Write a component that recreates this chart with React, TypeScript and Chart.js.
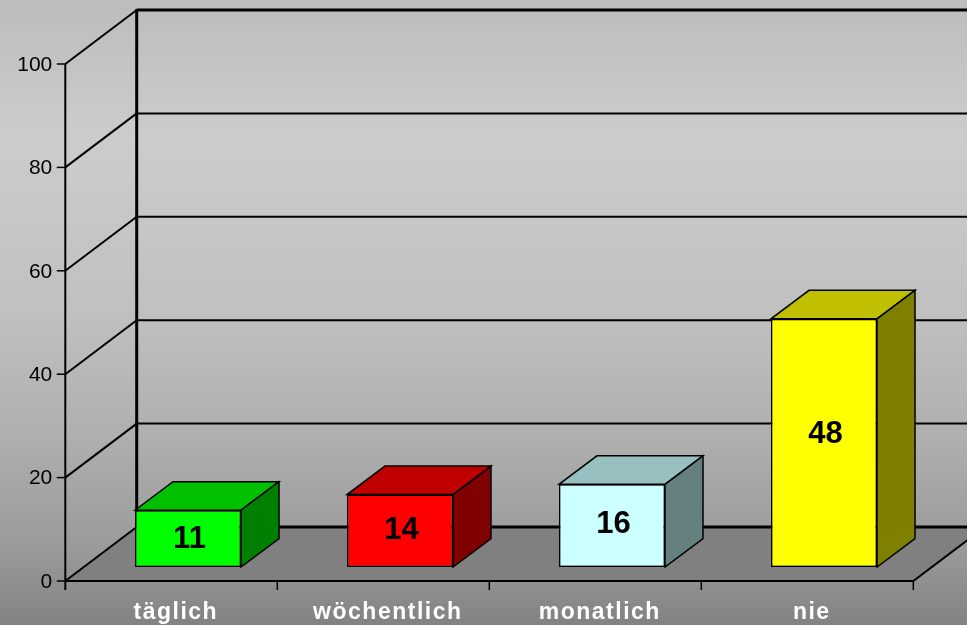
import React, { useEffect, useRef } from 'react';
import { Chart, registerables } from 'chart.js';

Chart.register(...registerables);

const categories = ['täglich', 'wöchentlich', 'monatlich', 'nie'];
const values = [11, 14, 16, 48];
const yTicks = [0, 20, 40, 60, 80, 100];

const frontColors = ['#00ff00', '#ff0000', '#ccffff', '#ffff00'];
const topColors = ['#00c000', '#c00000', '#99c0c0', '#c0c000'];
const sideColors = ['#008000', '#800000', '#668080', '#808000'];

// oblique projection offsets (relative to the bar front plane = chart area)
const FRONT_DX = -16.7;
const FRONT_DY = 14;
const BACK_DX = 54.7;
const BACK_DY = -40;
const BAR_DX = 38;
const BAR_DY = -28.5;

const FONT = '"Liberation Sans", Arial, sans-serif';

const line = (ctx: CanvasRenderingContext2D, pts: number[][], lw: number) => {
  ctx.beginPath();
  ctx.moveTo(pts[0][0], pts[0][1]);
  for (let i = 1; i < pts.length; i++) ctx.lineTo(pts[i][0], pts[i][1]);
  ctx.lineWidth = lw;
  ctx.strokeStyle = '#000';
  ctx.stroke();
};

const fake3d = {
  id: 'fake3d',
  beforeDraw(chart: any) {
    const { ctx, width, height } = chart;
    const g = ctx.createLinearGradient(0, 0, 0, height);
    g.addColorStop(0, '#bcbcbc');
    g.addColorStop(0.22, '#cccccc');
    g.addColorStop(0.5, '#c0c0c0');
    g.addColorStop(0.7, '#afafaf');
    g.addColorStop(0.88, '#9a9a9a');
    g.addColorStop(1, '#828282');
    ctx.save();
    ctx.fillStyle = g;
    ctx.fillRect(0, 0, width, height);
    ctx.restore();
  },
  beforeDatasetsDraw(chart: any) {
    const { ctx, chartArea } = chart;
    const x = chart.scales.x;
    const y = chart.scales.y;
    const y0 = y.getPixelForValue(0);
    const yTop = y.getPixelForValue(100);
    const fl = chartArea.left + FRONT_DX;
    const fr = chartArea.right + FRONT_DX;
    const bl = chartArea.left + BACK_DX;
    const br = chartArea.right + BACK_DX;
    const fy0 = y0 + FRONT_DY;
    const by0 = y0 + BACK_DY;
    ctx.save();
    ctx.lineCap = 'butt';
    // floor
    ctx.fillStyle = '#808080';
    ctx.beginPath();
    ctx.moveTo(fl, fy0);
    ctx.lineTo(fr, fy0);
    ctx.lineTo(br, by0);
    ctx.lineTo(bl, by0);
    ctx.closePath();
    ctx.fill();
    // gridlines on left wall and back wall
    yTicks.forEach((v) => {
      const py = y.getPixelForValue(v);
      line(ctx, [[fl, py + FRONT_DY], [bl, py + BACK_DY]], 2);
      line(ctx, [[bl, py + BACK_DY], [br + 10, py + BACK_DY]], v === 0 || v === 100 ? 3 : 2);
    });
    // back wall vertical edge
    line(ctx, [[bl, yTop + BACK_DY - 1], [bl, by0]], 3);
    // front value axis
    line(ctx, [[fl, yTop + FRONT_DY], [fl, fy0 + 9]], 2);
    ctx.fillStyle = '#000';
    ctx.font = `21px ${FONT}`;
    ctx.textAlign = 'right';
    ctx.textBaseline = 'middle';
    yTicks.forEach((v) => {
      const py = y.getPixelForValue(v) + FRONT_DY;
      line(ctx, [[fl - 8.5, py], [fl, py]], 1.5);
      ctx.fillText(String(v), fl - 13, py + 1);
    });
    // floor front edge and right edge
    line(ctx, [[fl, fy0], [fr, fy0], [br, by0]], 2);
    const n = categories.length;
    const step = n > 1 ? x.getPixelForValue(1) - x.getPixelForValue(0) : chartArea.right - chartArea.left;
    for (let i = 0; i < n; i++) {
      const xb = x.getPixelForValue(i) + step / 2 + FRONT_DX;
      line(ctx, [[xb, fy0], [xb, fy0 + 9]], 1.5);
    }
    // category labels
    ctx.fillStyle = '#ffffff';
    ctx.font = `bold 23px ${FONT}`;
    ctx.textAlign = 'center';
    ctx.textBaseline = 'alphabetic';
    try {
      (ctx as any).letterSpacing = '1.5px';
    } catch (e) {}
    categories.forEach((c, i) => {
      ctx.fillText(c, x.getPixelForValue(i) + FRONT_DX + 4.5, fy0 + 38);
    });
    try {
      (ctx as any).letterSpacing = '0px';
    } catch (e) {}
    ctx.restore();
  },
  afterDatasetsDraw(chart: any) {
    const { ctx } = chart;
    const meta = chart.getDatasetMeta(0);
    ctx.save();
    ctx.lineJoin = 'miter';
    meta.data.forEach((el: any, i: number) => {
      const { x: cx, y: top, base, width } = el.getProps(['x', 'y', 'base', 'width'], true);
      const l = cx - width / 2;
      const r = cx + width / 2;
      // top face
      ctx.beginPath();
      ctx.moveTo(l, top);
      ctx.lineTo(r, top);
      ctx.lineTo(r + BAR_DX, top + BAR_DY);
      ctx.lineTo(l + BAR_DX, top + BAR_DY);
      ctx.closePath();
      ctx.fillStyle = topColors[i];
      ctx.fill();
      ctx.lineWidth = 1.5;
      ctx.strokeStyle = '#000';
      ctx.stroke();
      // side face
      ctx.beginPath();
      ctx.moveTo(r, top);
      ctx.lineTo(r + BAR_DX, top + BAR_DY);
      ctx.lineTo(r + BAR_DX, base + BAR_DY);
      ctx.lineTo(r, base);
      ctx.closePath();
      ctx.fillStyle = sideColors[i];
      ctx.fill();
      ctx.stroke();
      // value label
      ctx.fillStyle = '#000';
      ctx.font = `bold 31px ${FONT}`;
      ctx.textAlign = 'center';
      ctx.textBaseline = 'middle';
      const h = base - top;
      ctx.fillText(String(values[i]), cx + 1.5, (top + base) / 2 - h * 0.045 + 3);
    });
    ctx.restore();
  },
};

export default function App() {
  const ref = useRef<HTMLCanvasElement>(null);
  useEffect(() => {
    document.body.style.margin = '0';
    if (!ref.current) return;
    const chart = new Chart(ref.current, {
      type: 'bar',
      data: {
        labels: categories,
        datasets: [
          {
            data: values,
            backgroundColor: frontColors,
            borderColor: '#000000',
            borderWidth: 1.5,
            borderSkipped: false,
            categoryPercentage: 1,
            barPercentage: 0.5,
          } as any,
        ],
      },
      options: {
        responsive: false,
        maintainAspectRatio: false,
        animation: false,
        devicePixelRatio: 1,
        layout: { padding: { left: 82, right: 37, top: 50, bottom: 58 } },
        scales: {
          x: { display: false },
          y: { display: false, min: 0, max: 100 },
        },
        plugins: {
          legend: { display: false },
          tooltip: { enabled: false },
        },
      },
      plugins: [fake3d],
    });
    return () => chart.destroy();
  }, []);
  return (
    <div style={{ width: 967, height: 625, margin: 0 }}>
      <canvas ref={ref} width={967} height={625} style={{ display: 'block' }} />
    </div>
  );
}
